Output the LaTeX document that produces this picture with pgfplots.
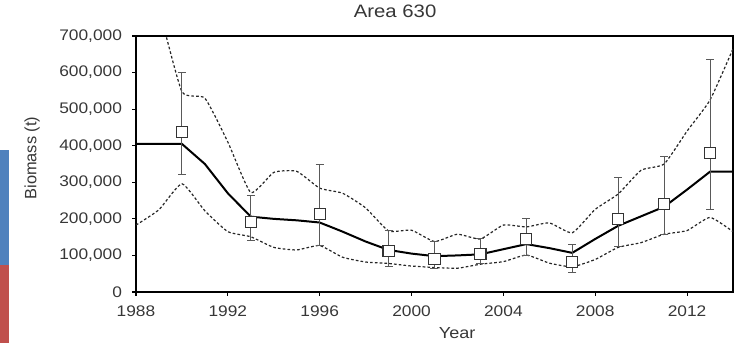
\documentclass[border=0pt]{standalone}
\usepackage{fontspec}
\setmainfont[FakeStretch=1.13]{Liberation Sans}
\newfontfamily\plainsans{Liberation Sans}
\usepackage{pgfplots}
\usepackage{pgfplotstable}
\pgfplotsset{compat=1.18}
\definecolor{slideblue}{RGB}{79,129,189}
\definecolor{slidered}{RGB}{192,80,77}
\definecolor{txt}{RGB}{55,55,55}

\pgfplotstableread{
x y
1988 405000
1989 405000
1990 405000
1991 350000
1992 270000
1993 206000
1994 200000
1995 196000
1996 190000
1997 165000
1998 138000
1999 115000
2000 105000
2001 98000
2002 100000
2003 103000
2004 117000
2005 131000
2006 120000
2007 107000
2008 145000
2009 181000
2010 207000
2011 233000
2012 280000
2013 329000
2014 329000
}\biomasstab

\pgfplotstableread{
x y
1988 1000000
1989 775000
1990 548000
1991 530000
1992 410000
1993 272000
1994 327000
1995 330000
1996 284000
1997 270000
1998 230000
1999 167000
2000 169000
2001 138000
2002 158000
2003 145000
2004 183000
2005 178000
2006 189000
2007 162000
2008 226000
2009 268000
2010 333000
2011 350000
2012 440000
2013 525000
2014 665000
}\uppertab

\pgfplotstableread{
x y
1988 183000
1989 225000
1990 296000
1991 222000
1992 165000
1993 151000
1994 122000
1995 115000
1996 127000
1997 95000
1998 82000
1999 78000
2000 71000
2001 67000
2002 65000
2003 76000
2004 83000
2005 101000
2006 79000
2007 69000
2008 89000
2009 122000
2010 135000
2011 158000
2012 168000
2013 204000
2014 165000
}\lowertab

\pgfplotstableread{
x y ep em
1990 437000 163000 117000
1993 191000 74000 49000
1996 213000 137000 85000
1999 113000 55000 42000
2001 90000 47000 25000
2003 103000 42000 24000
2005 145000 56000 44000
2007 83000 48000 31000
2009 199000 115000 74000
2011 240000 130000 83000
2013 380000 257000 155000
}\surveytab

\begin{document}
\begin{tikzpicture}
\path[use as bounding box] (-102pt,-38.25pt) rectangle (456pt,219pt);
\fill[slideblue] (-102pt,20.25pt) rectangle (-95.25pt,106.5pt);
\fill[slidered] (-102pt,-38.25pt) rectangle (-95.25pt,20.25pt);
\begin{axis}[
  at={(0,0)}, anchor=south west,
  scale only axis, width=447.75pt, height=192pt,
  xmin=1988, xmax=2014, ymin=0, ymax=700000,
  xtick={1988,1992,...,2012},
  ytick={0,100000,...,700000},
  tick align=outside, xtick pos=bottom, ytick pos=left,
  major tick length=3pt,
  axis line style={black, line width=1pt},
  tick style={black, line width=0.8pt},
  scaled y ticks=false,
  /pgf/number format/assume math mode=true,
  yticklabel style={/pgf/number format/.cd, fixed, 1000 sep={,}, /tikz/.cd, xshift=-4pt},
  xticklabel style={/pgf/number format/1000 sep={}, /tikz/.cd, yshift=-3.5pt},
  ticklabel style={font=\fontsize{11.5}{13}\selectfont, text=txt},
  title={Area 630},
  title style={at={(0.434,1)}, anchor=base, yshift=8.25pt, font=\fontsize{13.5}{16}\selectfont, text=txt},
  xlabel={Year}, ylabel={Biomass (t)},
  every axis x label/.style={at={(axis description cs:0.538,-0.16)}, anchor=center, font=\fontsize{12}{14}\selectfont, text=txt},
  every axis y label/.style={at={(axis description cs:-0.174,0.523)}, anchor=center, rotate=90, font=\plainsans\fontsize{12.3}{14}\selectfont, text=txt},
  clip=true,
]
\addplot[black!85, line width=0.9pt, dash pattern=on 2pt off 1.6pt, smooth, tension=0.3] table[x=x,y=y] {\uppertab};
\addplot[black!85, line width=0.9pt, dash pattern=on 2pt off 1.6pt, smooth, tension=0.3] table[x=x,y=y] {\lowertab};
\addplot[black, line width=1.5pt, no marks] table[x=x,y=y] {\biomasstab};
\addplot[draw=none, no marks, error bars/.cd, y dir=both, y explicit,
  error bar style={black!65, line width=0.75pt},
  error mark options={rotate=90, mark size=3pt, black!65, line width=0.75pt}]
  table[x=x, y=y, y error plus=ep, y error minus=em] {\surveytab};
\addplot[only marks, mark=square*, mark size=4.2pt, mark options={fill=white, draw=black!80, line width=0.8pt}] table[x=x,y=y] {\surveytab};
\end{axis}
\end{tikzpicture}
\end{document}
